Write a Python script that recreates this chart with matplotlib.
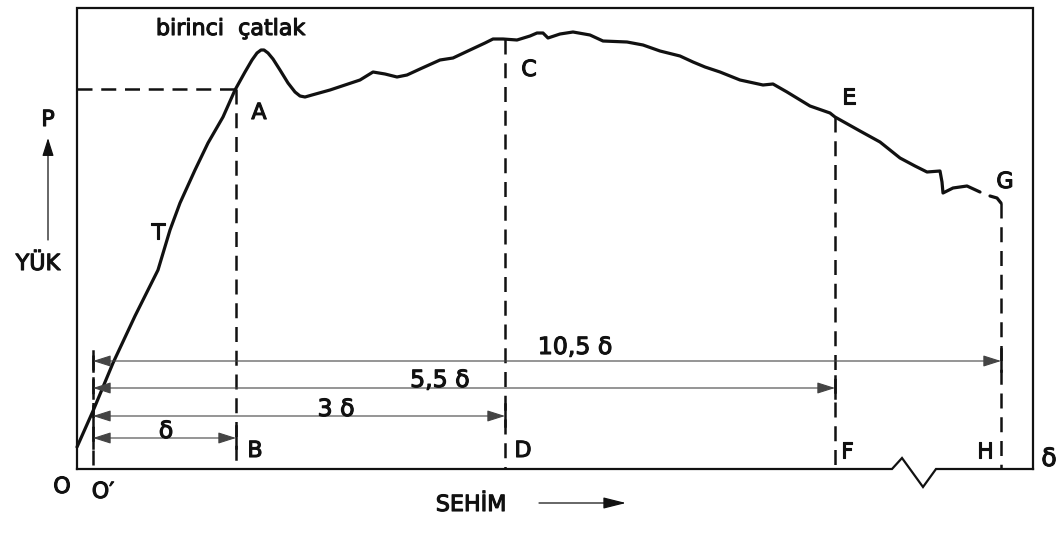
import matplotlib
matplotlib.use("Agg")
import matplotlib.pyplot as plt
import matplotlib.patheffects as pe

# ---- data (drawing units: x = deflection, y = screen-like load coordinate) ----
curve_x = [77, 93, 113, 135, 158, 170, 180, 195, 208, 223, 235, 245, 252, 257, 261, 264, 268,
           273, 280, 288, 295, 300, 305, 312, 330, 345, 360, 373, 385, 397, 407, 420, 440, 453,
           470, 485, 493, 503, 517, 530, 537, 543, 548, 560, 573, 590, 603, 627, 643, 660, 680,
           693, 705, 720, 740, 763, 773, 787, 810, 830, 835, 860, 880, 900, 915, 927, 940, 942,
           943, 953, 967, 980]
curve_y = [447, 411, 363, 316, 270, 230, 203, 170, 143, 117, 90, 72, 60, 53, 50, 50, 53,
           59, 70, 83, 92, 96, 97, 95, 90, 85, 80, 72, 74, 77, 75, 69, 60, 58,
           50, 43, 39, 39, 40, 36, 33, 33, 38, 34, 32, 35, 41, 42, 45, 51, 56,
           62, 67, 72, 80, 85, 84, 92, 106, 113, 117, 131, 142, 158, 166, 172, 171, 182,
           193, 188, 186, 192]
tail_x = [990, 997, 1001]
tail_y = [196, 198, 203]

frame_left, frame_right, frame_top, frame_bottom = 77, 1033, 8, 469
break_x = [892, 902, 923, 936]
break_y = [469, 458, 487, 469]

first_crack_level = 89
origin_prime_x = 93
drop_x = [236, 505, 835, 1001]          # B, D, F, H
drop_top = [89, 39, 117, 203]           # A, C, E, G
dim_y = [438, 416, 388, 361]
dim_labels = ["δ", "3 δ", "5,5 δ", "10,5 δ"]
dim_label_x = [166, 336, 440, 575]
dim_label_y = [431, 409, 380, 347]

point_labels = ["A", "C", "E", "G", "B", "D", "F", "H"]
point_label_x = [259, 529, 849, 1005, 255, 523, 847, 985]
point_label_y = [113, 70, 98, 182, 451, 451, 452, 452]

fig = plt.figure(figsize=(10.61, 5.33), dpi=100)
ax = fig.add_axes([0, 0, 1, 1])
ax.set_xlim(0, 1061)
ax.set_ylim(533, 0)
ax.axis("off")

K = "#111111"
FS = 16
thick = [pe.withStroke(linewidth=0.8, foreground=K)]


def label(x, y, s, size=FS):
    ax.text(x, y, s, fontsize=size, ha="center", va="center", color=K, path_effects=thick)


# frame with axis break
ax.plot([frame_left, frame_left, frame_right, frame_right], [frame_bottom, frame_top, frame_top, frame_bottom],
        color=K, lw=1.6, solid_joinstyle="miter")
ax.plot([frame_left] + break_x + [frame_right], [frame_bottom] + break_y + [frame_bottom],
        color=K, lw=1.6, solid_joinstyle="miter")

# curve
ax.plot(curve_x, curve_y, color=K, lw=2.3, solid_capstyle="round", solid_joinstyle="round")
ax.plot(tail_x, tail_y, color=K, lw=2.3, solid_capstyle="round")

# dashed helpers
dash = (0, (6, 3.5))
ax.plot([frame_left, drop_x[0]], [first_crack_level, first_crack_level], color=K, lw=1.8, linestyle=dash)
for x, top in zip(drop_x, drop_top):
    ax.plot([x, x], [top, frame_bottom], color=K, lw=1.8, linestyle=dash)
ax.plot([origin_prime_x, origin_prime_x], [dim_y[-1] - 6, frame_bottom], color=K, lw=1.8, linestyle=dash)

# dimension arrows
for x_end, y, lab, lx, ly in zip(drop_x, dim_y, dim_labels, dim_label_x, dim_label_y):
    ax.annotate("", xy=(x_end, y), xytext=(origin_prime_x, y),
                arrowprops=dict(arrowstyle="<|-|>,head_length=1.1,head_width=0.35",
                                mutation_scale=10, color="#444444", lw=0.8,
                                shrinkA=0, shrinkB=0))
    ax.plot([x_end, x_end], [y - 12, y + 10], color=K, lw=1.8)
    ax.plot([origin_prime_x, origin_prime_x], [y - 10, y + 10], color=K, lw=1.8)
    label(lx, ly, lab, 17)

# point labels
for lab, x, y in zip(point_labels, point_label_x, point_label_y):
    label(x, y, lab)

label(231, 29, "birinci  çatlak", 16)
label(158, 233, "T")

# axis titles
label(48, 120, "P")
ax.annotate("", xy=(48, 138), xytext=(48, 240),
            arrowprops=dict(arrowstyle="-|>,head_length=1.1,head_width=0.35", mutation_scale=10,
                            color=K, lw=0.9, shrinkA=0, shrinkB=0))
label(38, 264, "YÜK")
label(471, 505, "SEHİM")
ax.annotate("", xy=(626, 503), xytext=(539, 503),
            arrowprops=dict(arrowstyle="-|>,head_length=1.4,head_width=0.35", mutation_scale=10,
                            color=K, lw=0.9, shrinkA=0, shrinkB=0))
label(62, 487, "O")
label(103, 492, "O′")
label(1049, 459, "δ", 18)

fig.savefig("out.png", dpi=100)
